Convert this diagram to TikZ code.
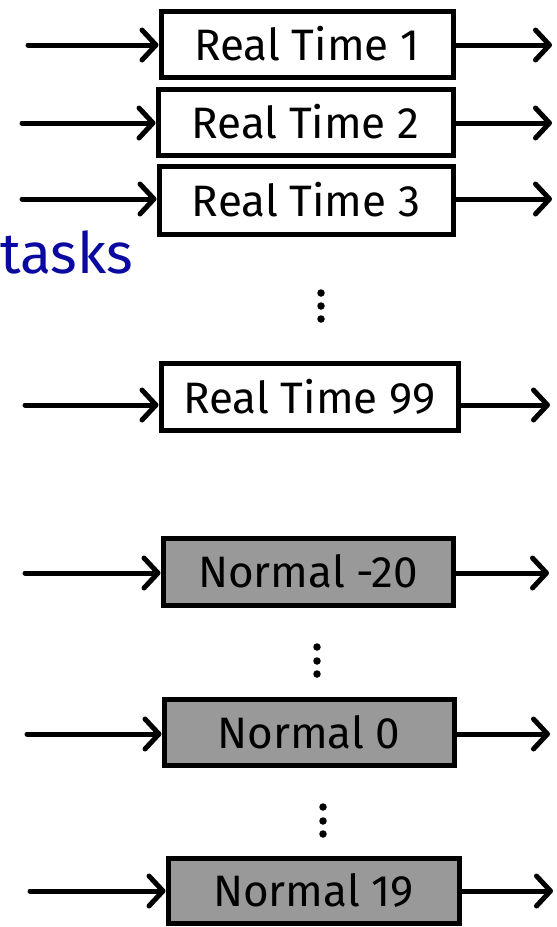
\documentclass[tikz,border=0pt]{standalone}
\usepackage{fontspec}
\setmainfont{Fira Sans}
\usetikzlibrary{arrows.meta}
\definecolor{boxgray}{HTML}{999999}
\definecolor{taskblue}{HTML}{0A0AA0}
\begin{document}
\begin{tikzpicture}[x=1pt,y=-1pt,
  qbox/.style={draw=black, line width=5pt, inner sep=0pt, font=\fontsize{44}{48}\selectfont},
  rtbox/.style={qbox, fill=white},
  nmbox/.style={qbox, fill=boxgray},
  arr/.style={line width=5pt, line cap=round, -{Straight Barb[length=14pt,width=30pt,line cap=round,line join=round]}},
  vdot/.style={circle, fill=black, inner sep=0pt, minimum size=7.5pt}
]
\useasboundingbox (0,0) rectangle (557,927);

\node[rtbox, minimum width=292pt, minimum height=66pt] (rt1) at (307,44) {Real Time 1};
\node[rtbox, minimum width=295pt, minimum height=66pt] (rt2) at (305.5,122) {Real Time 2};
\node[rtbox, minimum width=294pt, minimum height=68pt] (rt3) at (306,200) {Real Time 3};
\node[rtbox, minimum width=297pt, minimum height=67pt] (rt99) at (309.5,396.5) {Real Time 99};
\node[nmbox, minimum width=290pt, minimum height=67pt] (nm20) at (308,571.5) {Normal -20};
\node[nmbox, minimum width=290pt, minimum height=66pt] (nm0) at (309,732) {Normal 0};
\node[nmbox, minimum width=291pt, minimum height=65pt] (nm19) at (313.5,890.5) {Normal 19};

\node[anchor=base west, inner sep=0pt, text=taskblue, font=\fontsize{57}{60}\selectfont] (tasks) at (0,273) {tasks};

\node[vdot] (d1a) at (321,293) {};
\node[vdot] (d1b) at (321,306) {};
\node[vdot] (d1c) at (321,319) {};
\node[vdot] (d2a) at (317,647) {};
\node[vdot] (d2b) at (317,661) {};
\node[vdot] (d2c) at (317,674) {};
\node[vdot] (d3a) at (323,807) {};
\node[vdot] (d3b) at (323,821) {};
\node[vdot] (d3c) at (323,834) {};

\coordinate (i1) at (28,45);  \coordinate (o1) at (552,45);
\coordinate (i2) at (22,123); \coordinate (o2) at (552,123);
\coordinate (i3) at (22,199); \coordinate (o3) at (552,199);
\coordinate (i99) at (25,405); \coordinate (o99) at (550,405);
\coordinate (i20) at (25,573); \coordinate (o20) at (549,573);
\coordinate (i0) at (27,734);  \coordinate (o0) at (550,734);
\coordinate (i19) at (30,891); \coordinate (o19) at (553,891);

\draw[arr] (i1) -- (i1 -| rt1.west);
\draw[arr] (i2) -- (i2 -| rt2.west);
\draw[arr] (i3) -- (i3 -| rt3.west);
\draw[arr] (i99) -- (i99 -| rt99.west);
\draw[arr] (i20) -- (i20 -| nm20.west);
\draw[arr] (i0) -- (i0 -| nm0.west);
\draw[arr] (i19) -- (i19 -| nm19.west);

\draw[arr] (o1 -| rt1.east) -- (o1);
\draw[arr] (o2 -| rt2.east) -- (o2);
\draw[arr] (o3 -| rt3.east) -- (o3);
\draw[arr] (o99 -| rt99.east) -- (o99);
\draw[arr] (o20 -| nm20.east) -- (o20);
\draw[arr] (o0 -| nm0.east) -- (o0);
\draw[arr] (o19 -| nm19.east) -- (o19);
\end{tikzpicture}
\end{document}
